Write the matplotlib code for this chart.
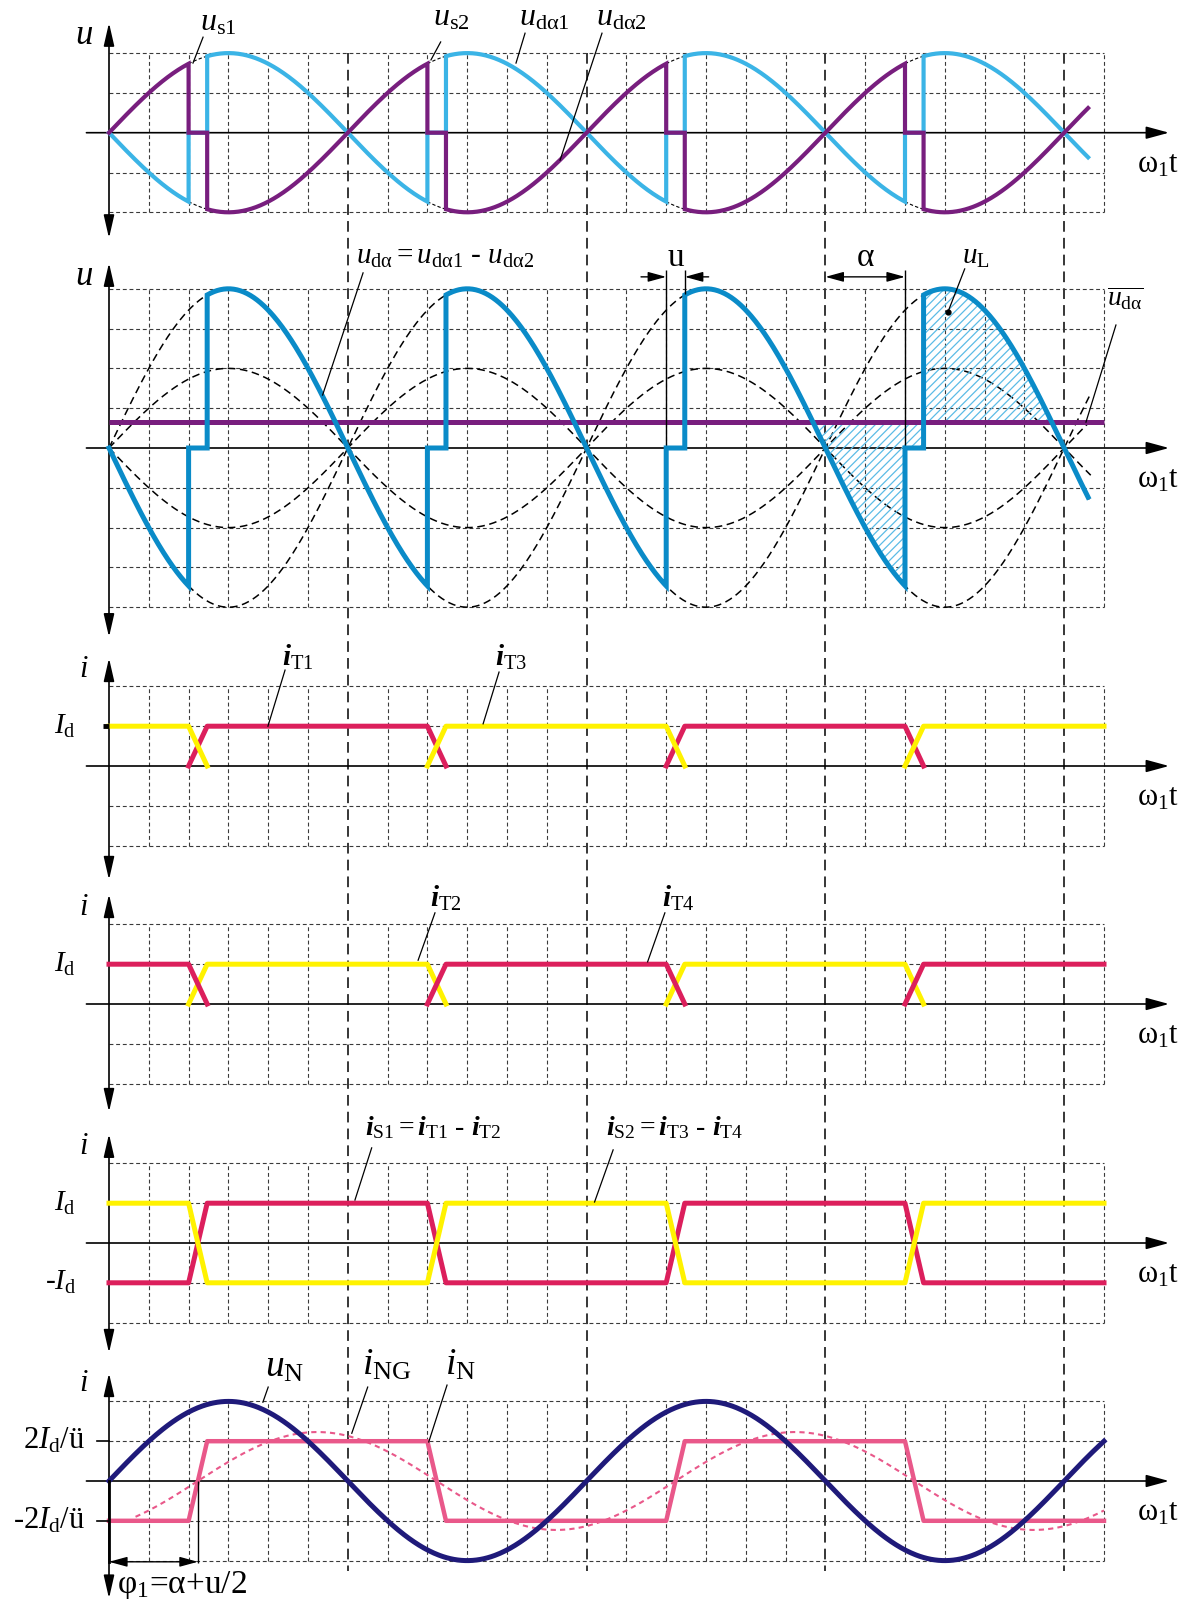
import numpy as np
import matplotlib
matplotlib.use('Agg')
import matplotlib.pyplot as plt
from matplotlib.patches import FancyArrowPatch

plt.rcParams['font.family'] = ['Liberation Serif', 'DejaVu Serif']
plt.rcParams['mathtext.fontset'] = 'custom'
plt.rcParams['mathtext.rm'] = 'Liberation Serif'
plt.rcParams['mathtext.it'] = 'Liberation Serif:italic'
plt.rcParams['mathtext.bf'] = 'Liberation Serif:italic:bold'
plt.rcParams['hatch.linewidth'] = 0.9
plt.rcParams['hatch.color'] = '#5CBCE6'

# ---------------- data (angles in degrees, amplitudes in grid cells) ----------------
firing_angles = [60, 240, 420, 600]      # alpha + k*180
overlap_u = 14                           # commutation overlap
end_u = 738
end_i = 750
amp_s = 2.0                              # u_da1, u_da2 amplitude
amp_d = 4.0                              # u_da amplitude
mean_uda = 0.66                          # mean value of u_da
uda1_segments = [(0, 60, -1), (74, 240, 1), (254, 420, -1), (434, 600, 1), (614, 738, -1)]
hatch_range = (530.5, 710.5)

iT1_t = [60, 74, 240, 254, np.nan, 420, 434, 600, 614]
iT1_v = [0, 1, 1, 0, np.nan, 0, 1, 1, 0]
iT3_t = [0, 60, 74, np.nan, 240, 254, 420, 434, np.nan, 600, 614, 750]
iT3_v = [1, 1, 0, np.nan, 0, 1, 1, 0, np.nan, 0, 1, 1]
iT2_t = [60, 74, 240, 254, np.nan, 420, 434, 600, 614]
iT2_v = [0, 1, 1, 0, np.nan, 0, 1, 1, 0]
iT4_t = [0, 60, 74, np.nan, 240, 254, 420, 434, np.nan, 600, 614, 750]
iT4_v = [1, 1, 0, np.nan, 0, 1, 1, 0, np.nan, 0, 1, 1]
iS_t = [0, 60, 74, 240, 254, 420, 434, 600, 614, 750]
iS1_v = [-1, -1, 1, 1, -1, -1, 1, 1, -1, -1]
iS2_v = [1, 1, -1, -1, 1, 1, -1, -1, 1, 1]
iN_t = [0, 60, 74, 240, 254, 420, 434, 600, 614, 750]
iN_v = [-1, -1, 1, 1, -1, -1, 1, 1, -1, -1]
uN_amp = 2.0
iNG_amp = 1.23
iNG_phase = 67
iNG_start = 20
phi1 = 67

# ---------------- colours ----------------
LB = '#3BB4E6'
PU = '#781E7E'
BL = '#0A8BC8'
RD = '#DC1F5C'
YE = '#FFF200'
NV = '#1F1A7A'
PK = '#E9588A'
GR = '#3a3a3a'

W, H = 1192, 1599
X0, CELL = 109.0, 39.8
XL = (-X0 / CELL * 30, (W - X0) / CELL * 30)

fig = plt.figure(figsize=(W / 100, H / 100), dpi=100)


def panel(Y, top, bot):
    ax = fig.add_axes([0, 1 - bot / H, 1, (bot - top) / H])
    ax.set_xlim(*XL)
    ax.set_ylim(-(bot - Y) / CELL, (Y - top) / CELL)
    ax.axis('off')
    ax.set_zorder(2)
    return ax


def grid(ax, n):
    xs = [x for x in range(30, 751, 30) if x % 180 != 0]
    ax.vlines(xs, -n, n, colors=GR, lw=0.8, linestyles=(0, (3.5, 2.5)), zorder=1)
    ys = [y for y in range(-n, n + 1) if y != 0]
    ax.hlines(ys, 0, 750, colors=GR, lw=0.8, linestyles=(0, (3.5, 2.5)), zorder=1)


def axes_arrows(ax, ybot, ytop, ylab, ylab_y, ylab_size=22):
    ax.add_patch(FancyArrowPatch((-17, 0), (799, 0),
                                 arrowstyle='-|>,head_length=1.4,head_width=0.38',
                                 mutation_scale=10, lw=1.2, color='k',
                                 shrinkA=0, shrinkB=0, zorder=3, clip_on=False))
    ax.add_patch(FancyArrowPatch((0, ybot), (0, ytop),
                                 arrowstyle='<|-|>,head_length=1.4,head_width=0.32',
                                 mutation_scale=10, lw=1.2, color='k',
                                 shrinkA=0, shrinkB=0, zorder=3, clip_on=False))
    ax.text(-19, ylab_y, ylab, fontsize=ylab_size, ha='center', va='center')
    ax.text(791, -0.8, r'$\mathrm{ω}_{\mathrm{1}}\mathrm{t}$', fontsize=22,
            ha='center', va='center')


def leader(ax, p0, p1):
    ax.plot([p0[0], p1[0]], [p0[1], p1[1]], color='k', lw=0.9, zorder=6)


def switched_wave(segments, amp):
    xs, ys = [], []
    for k, (a, b, s) in enumerate(segments):
        t = np.linspace(a, b, 200)
        v = s * amp * np.sin(np.radians(t))
        if k > 0:
            xs.append(a); ys.append(0.0)
        xs.extend(t); ys.extend(v)
        if k < len(segments) - 1:
            xs.append(b); ys.append(0.0)
    return np.array(xs), np.array(ys)


def small_arrow(ax, p0, p1, both=False):
    st = '<|-|>' if both else '-|>'
    ax.add_patch(FancyArrowPatch(p0, p1, arrowstyle=st + ',head_length=1.1,head_width=0.3',
                                 mutation_scale=10, lw=1.0, color='k',
                                 shrinkA=0, shrinkB=0, zorder=6, clip_on=False))


# ---------------- overlay: long dashed period lines ----------------
ov = fig.add_axes([0, 0, 1, 1])
ov.set_xlim(*XL)
ov.set_ylim(H, 0)
ov.axis('off')
ov.set_zorder(1)
ov.vlines([180, 360, 540, 720], 53, 1571, colors='k', lw=1.1, linestyles=(0, (7, 4)))

# ================= Panel 1 =================
ax1 = panel(132.7, 0, 245)
grid(ax1, 2)
axes_arrows(ax1, -2.65, 2.76, r'$u$', 2.45, 25)
x1, y1 = switched_wave(uda1_segments, amp_s)
ax1.plot(x1, y1, color=LB, lw=3.0, zorder=4, solid_joinstyle='miter')
ax1.plot(x1, -y1, color=PU, lw=3.0, zorder=5, solid_joinstyle='miter')
for a in firing_angles:
    t = np.linspace(a, a + overlap_u, 20)
    for s in (1, -1):
        ax1.plot(t, s * amp_s * np.sin(np.radians(t)), color='k', lw=0.8,
                 ls=(0, (3, 2)), zorder=3)
ax1.text(68.6, 2.76, r'$u_{\mathrm{s1}}$', fontsize=23, ha='left', va='center')
leader(ax1, (70.9, 2.40), (63.3, 1.75))
ax1.text(244, 2.88, r'$u_{\mathrm{s2}}$', fontsize=23, ha='left', va='center')
leader(ax1, (250, 2.28), (242.7, 1.83))
ax1.text(309, 2.88, r'$u_{\mathrm{dα1}}$', fontsize=23, ha='left', va='center')
leader(ax1, (313.6, 2.5), (306.8, 1.75))
ax1.text(367, 2.88, r'$u_{\mathrm{dα2}}$', fontsize=23, ha='left', va='center')
leader(ax1, (371.6, 2.5), (340, -0.69))

# ================= Panel 2 =================
ax2 = panel(448, 245, 645)
grid(ax2, 4)
axes_arrows(ax2, -4.75, 4.65, r'$u$', 4.3, 25)
tt = np.linspace(0, 740, 800)
for amp in (amp_s, amp_d):
    for s in (1, -1):
        ax2.plot(tt, s * amp * np.sin(np.radians(tt)), color='k', lw=1.1,
                 ls=(0, (5, 3)), zorder=3)
x2, y2 = switched_wave(uda1_segments, amp_d)
mask = (x2 >= hatch_range[0]) & (x2 <= hatch_range[1])
ax2.fill_between(x2, y2, mean_uda, where=mask, facecolor='none', edgecolor='#5CBCE6',
                 hatch='////', lw=0, zorder=3.5)
ax2.hlines(mean_uda, 0, 750, colors=PU, lw=3.6, zorder=4)
ax2.plot(x2, y2, color=BL, lw=3.6, zorder=5, solid_joinstyle='miter')
# u and alpha markers
ax2.vlines([firing_angles[2], firing_angles[3]], -3.3, 4.47, colors='k', lw=1.0, zorder=4.5)
ax2.vlines([firing_angles[2] + overlap_u], 3.88, 4.47, colors='k', lw=1.0, zorder=6)
small_arrow(ax2, (401, 4.3), (firing_angles[2], 4.3))
small_arrow(ax2, (452, 4.3), (firing_angles[2] + overlap_u, 4.3))
small_arrow(ax2, (540, 4.3), (firing_angles[3], 4.3), both=True)
ax2.text(427, 4.77, 'u', fontsize=24, ha='center', va='center')
ax2.text(570, 4.77, 'α', fontsize=24, ha='center', va='center')
ax2.text(186, 4.8, r'$u_{\mathrm{dα}} = u_{\mathrm{dα1}}$ - $u_{\mathrm{dα2}}$', fontsize=21,
         ha='left', va='center')
leader(ax2, (191.5, 4.4), (161, 1.33))
ax2.text(643, 4.8, r'$u_{\mathrm{L}}$', fontsize=21, ha='left', va='center')
leader(ax2, (645, 4.5), (632.4, 3.42))
ax2.plot([632.4], [3.42], 'o', color='k', ms=3.5, zorder=7)
ax2.text(752, 3.75, r'$\overline{u_{\mathrm{dα}}}$', fontsize=20, ha='left', va='center')
leader(ax2, (759, 3.09), (736.4, 0.65))

# ================= Panel 3 =================
ax3 = panel(766, 645, 885)
grid(ax3, 2)
axes_arrows(ax3, -2.86, 2.71, r'$i$', 2.42)
ax3.text(-25, 1.0, r'$I_{\mathrm{d}}$', fontsize=21, ha='right', va='center')
ax3.plot([-4.5, 0], [1, 1], color='k', lw=3.5, solid_capstyle='butt', zorder=6)
ax3.plot(iT1_t, iT1_v, color=RD, lw=3.6, zorder=4)
ax3.plot(iT3_t, iT3_v, color=YE, lw=3.6, zorder=5)
ax3.text(130.4, 2.74, r'$\mathbf{i}_{\mathrm{T1}}$', fontsize=21, ha='left', va='center')
leader(ax3, (132.7, 2.41), (119.8, 1.0))
ax3.text(291, 2.74, r'$\mathbf{i}_{\mathrm{T3}}$', fontsize=21, ha='left', va='center')
leader(ax3, (294, 2.36), (282, 1.06))

# ================= Panel 4 =================
ax4 = panel(1004, 885, 1122)
grid(ax4, 2)
axes_arrows(ax4, -2.71, 2.76, r'$i$', 2.42)
ax4.text(-25, 1.0, r'$I_{\mathrm{d}}$', fontsize=21, ha='right', va='center')
ax4.plot(iT2_t, iT2_v, color=YE, lw=3.6, zorder=4)
ax4.plot(iT4_t, iT4_v, color=RD, lw=3.6, zorder=5)
ax4.text(242, 2.66, r'$\mathbf{i}_{\mathrm{T2}}$', fontsize=21, ha='left', va='center')
leader(ax4, (245.7, 2.29), (233, 1.1))
ax4.text(417, 2.66, r'$\mathbf{i}_{\mathrm{T4}}$', fontsize=21, ha='left', va='center')
leader(ax4, (419, 2.29), (406, 1.06))

# ================= Panel 5 =================
ax5 = panel(1243, 1122, 1360)
grid(ax5, 2)
axes_arrows(ax5, -2.76, 2.74, r'$i$', 2.42)
ax5.text(-25, 1.0, r'$I_{\mathrm{d}}$', fontsize=21, ha='right', va='center')
ax5.text(-25, -1.0, r'-$I_{\mathrm{d}}$', fontsize=21, ha='right', va='center')
ax5.plot(iS_t, iS1_v, color=RD, lw=3.6, zorder=4)
ax5.plot(iS_t, iS2_v, color=YE, lw=3.6, zorder=5)
ax5.text(193, 2.91, r'$\mathbf{i}_{\mathrm{S1}}= \mathbf{i}_{\mathrm{T1}}$ - $\mathbf{i}_{\mathrm{T2}}$',
         fontsize=20, ha='left', va='center')
leader(ax5, (198, 2.39), (185.4, 1.08))
ax5.text(375, 2.91, r'$\mathbf{i}_{\mathrm{S2}}= \mathbf{i}_{\mathrm{T3}}$ - $\mathbf{i}_{\mathrm{T4}}$',
         fontsize=20, ha='left', va='center')
leader(ax5, (380, 2.34), (366, 1.03))

# ================= Panel 6 =================
ax6 = panel(1481, 1360, 1599)
grid(ax6, 2)
axes_arrows(ax6, -2.95, 2.71, r'$i$', 2.46)
for yv, lab in ((1, r'2$I_{\mathrm{d}}$/ü'), (-1, r'-2$I_{\mathrm{d}}$/ü')):
    ax6.text(-18, yv, lab, fontsize=22, ha='right', va='center')
    ax6.plot([-9, 0], [yv, yv], color='k', lw=1.2, zorder=6)
t6 = np.linspace(iNG_start, end_i, 800)
ax6.plot(t6, iNG_amp * np.sin(np.radians(t6 - iNG_phase)), color=PK, lw=1.5,
         ls=(0, (2.5, 2)), zorder=3)
ax6.plot(iN_t, iN_v, color=PK, lw=3.2, zorder=4)
tN = np.linspace(0, end_i, 800)
ax6.plot(tN, uN_amp * np.sin(np.radians(tN)), color=NV, lw=3.6, zorder=5)
ax6.plot([0, 0], [0, -2.03], color='k', lw=2.0, zorder=6)
ax6.vlines(phi1, -2.06, 0, colors='k', lw=1.0, zorder=6)
small_arrow(ax6, (0, -2.03), (phi1, -2.03), both=True)
ax6.text(6, -2.62, r'φ$_{\mathrm{1}}$=α+u/2', fontsize=24, ha='left', va='center')
ax6.text(132.7, 2.86, r'$u_{\mathrm{N}}$', fontsize=27, ha='center', va='center')
leader(ax6, (120, 2.36), (116, 1.98))
ax6.text(209.5, 2.91, r'$i_{\mathrm{NG}}$', fontsize=27, ha='center', va='center')
leader(ax6, (195, 2.36), (183, 1.2))
ax6.text(264.6, 2.91, r'$i_{\mathrm{N}}$', fontsize=27, ha='center', va='center')
leader(ax6, (254.8, 2.41), (241, 0.98))

fig.savefig('out.png', dpi=100)
